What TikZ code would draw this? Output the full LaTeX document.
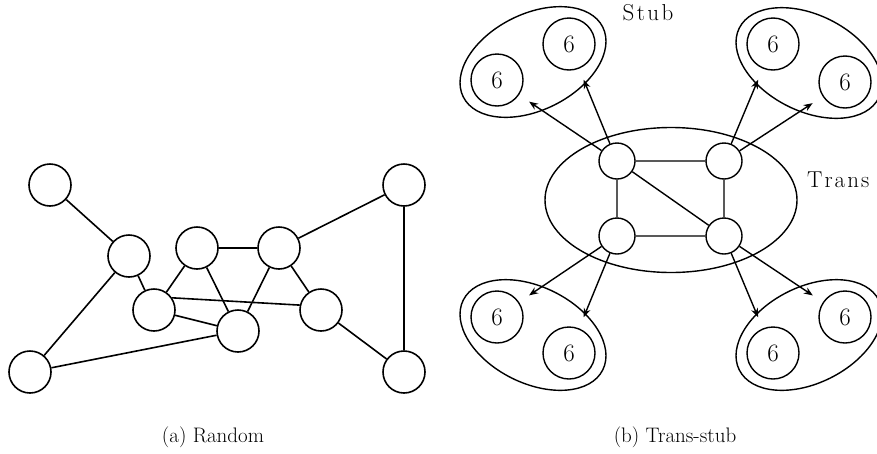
\documentclass[tikz,border=0pt]{standalone}
\usepackage{fontspec}
\usetikzlibrary{shapes.geometric,arrows.meta}
\newcommand{\spaced}[1]{#1}
\begin{document}
\begin{tikzpicture}[x=1pt,y=-1pt,
  gnode/.style={draw,circle,line width=1.6pt,minimum size=42pt,inner sep=0pt},
  tnode/.style={draw,circle,line width=1.4pt,minimum size=36pt,inner sep=0pt},
  snode/.style={draw,circle,line width=1.4pt,minimum size=52pt,inner sep=0pt,font=\fontsize{25}{28}\selectfont},
  oval/.style={draw,ellipse,line width=1.4pt,inner sep=0pt},
  edge/.style={line width=1.6pt},
  tedge/.style={line width=1.4pt},
  arr/.style={line width=1.4pt,-{Stealth[length=9pt,width=7pt]},shorten >=12pt},
  lab/.style={font=\fontsize{23}{26}\selectfont},
  captext/.style={font=\fontsize{21}{25}\selectfont}]
\useasboundingbox (0,0) rectangle (877,453);
\clip (0,0) rectangle (877,453);
% left: random graph
\node[gnode] (A) at (50,185) {};
\node[gnode] (B) at (129,256) {};
\node[gnode] (C) at (197,248) {};
\node[gnode] (D) at (279,248) {};
\node[gnode] (E) at (404,185) {};
\node[gnode] (F) at (154,310) {};
\node[gnode] (G) at (238,331) {};
\node[gnode] (H) at (321,310) {};
\node[gnode] (I) at (30,372) {};
\node[gnode] (J) at (404,372) {};
\draw[edge] (A)--(B) (B)--(I) (B)--(F) (C)--(F) (C)--(G) (C)--(D) (D)--(G)
  (D)--(H) (D)--(E) (F)--(G) (G)--(I) (H)--(J) (E)--(J);
\draw[edge] (F.34)--(H.167);
\node[captext] (capa) at (213,437) {(a) Random};
% right: trans-stub
\node[oval,minimum width=252pt,minimum height=145pt] (trans) at (671,200) {};
\node[tnode] (n1) at (617,161) {};
\node[tnode] (n2) at (724,161) {};
\node[tnode] (n3) at (617,236) {};
\node[tnode] (n4) at (724,236) {};
\draw[tedge] (n1)--(n2) (n2)--(n4) (n4)--(n3) (n3)--(n1) (n1)--(n4);
% stubs
\node[oval,minimum width=156pt,minimum height=96pt,rotate=26.6] (s1) at (533,62) {};
\node[snode] (a1) at (497,80) {6};
\node[snode] (a2) at (569,44) {6};
\node[oval,minimum width=156pt,minimum height=96pt,rotate=-26.6] (s2) at (809,63) {};
\node[snode] (b1) at (773,44) {6};
\node[snode] (b2) at (845,82) {6};
\node[oval,minimum width=156pt,minimum height=96pt,rotate=-26.6] (s3) at (533,335) {};
\node[snode] (c1) at (497,317) {6};
\node[snode] (c2) at (569,353) {6};
\node[oval,minimum width=156pt,minimum height=96pt,rotate=26.6] (s4) at (809,335) {};
\node[snode] (d1) at (845,317) {6};
\node[snode] (d2) at (773,353) {6};
\draw[arr] (n1)--(a1);
\draw[arr] (n1)--(a2);
\draw[arr] (n2)--(b1);
\draw[arr] (n2)--(b2);
\draw[arr] (n3)--(c1);
\draw[arr] (n3)--(c2);
\draw[arr] (n4)--(d2);
\draw[arr] (n4)--(d1);
\node[lab] (stub) at (648,13) {S\kern2.5pt t\kern2.5pt u\kern2.5pt b};
\node[lab,anchor=west,inner sep=0pt] (translab) at (807,180) {T\kern2pt r\kern2pt a\kern2pt n\kern2pt s};
\node[captext] (capb) at (675,437) {(b) Trans-stub};
\end{tikzpicture}
\end{document}
